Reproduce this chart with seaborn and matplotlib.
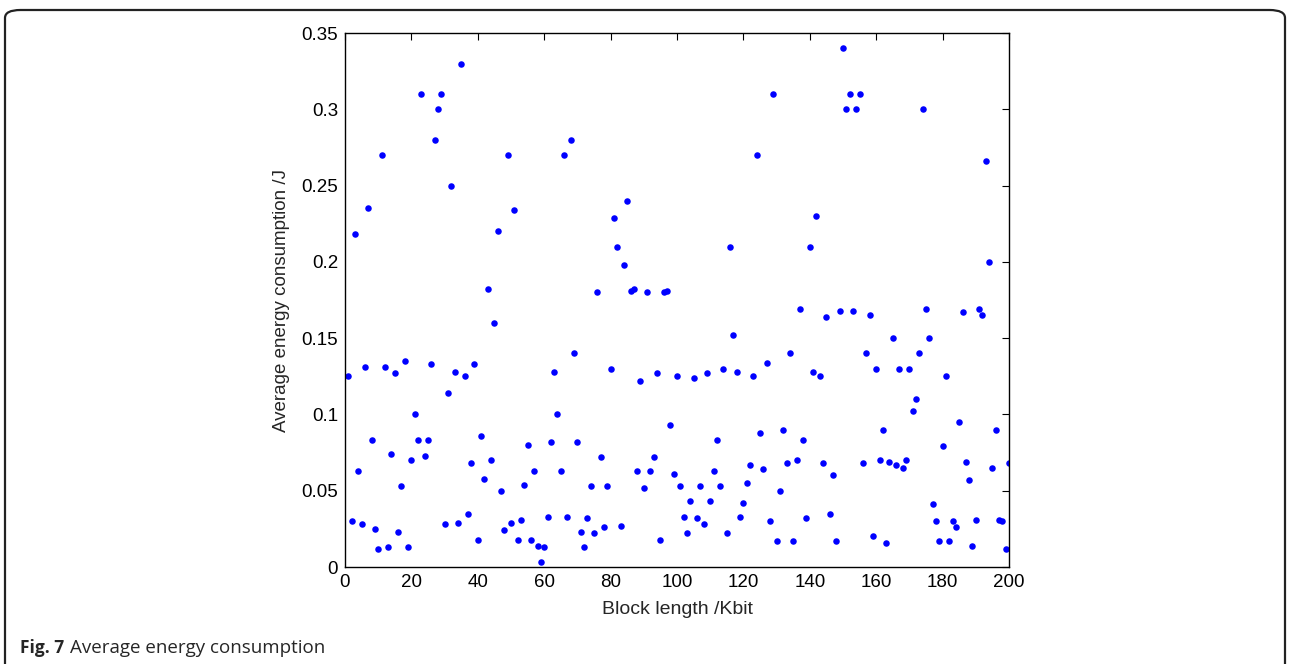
import numpy as np
import pandas as pd
import seaborn as sns
import matplotlib.pyplot as plt
from matplotlib.patches import FancyBboxPatch

# Block lengths 1..200 Kbit
block_len = np.arange(1, 201)

# Average energy consumption (J)
energy = [
    0.125, 0.030, 0.218, 0.063, 0.028, 0.131, 0.235, 0.083, 0.025, 0.012,
    0.270, 0.131, 0.013, 0.074, 0.127, 0.023, 0.053, 0.135, 0.013, 0.070,
    0.100, 0.083, 0.310, 0.073, 0.083, 0.133, 0.280, 0.300, 0.310, 0.028,
    0.114, 0.250, 0.128, 0.029, 0.330, 0.125, 0.035, 0.068, 0.133, 0.018,
    0.086, 0.058, 0.182, 0.070, 0.160, 0.220, 0.050, 0.024, 0.270, 0.029,
    0.234, 0.018, 0.031, 0.054, 0.080, 0.018, 0.063, 0.014, 0.003, 0.013,
    0.033, 0.082, 0.128, 0.100, 0.063, 0.270, 0.033, 0.280, 0.140, 0.082,
    0.023, 0.013, 0.032, 0.053, 0.022, 0.180, 0.072, 0.026, 0.053, 0.130,
    0.229, 0.210, 0.027, 0.198, 0.240, 0.181, 0.182, 0.063, 0.122, 0.052,
    0.180, 0.063, 0.072, 0.127, 0.018, 0.180, 0.181, 0.093, 0.061, 0.125,
    0.053, 0.033, 0.022, 0.043, 0.124, 0.032, 0.053, 0.028, 0.127, 0.043,
    0.063, 0.083, 0.053, 0.130, 0.022, 0.210, 0.152, 0.128, 0.033, 0.042,
    0.055, 0.067, 0.125, 0.270, 0.088, 0.064, 0.134, 0.030, 0.310, 0.017,
    0.050, 0.090, 0.068, 0.140, 0.017, 0.070, 0.169, 0.083, 0.032, 0.210,
    0.128, 0.230, 0.125, 0.068, 0.164, 0.035, 0.060, 0.017, 0.168, 0.340,
    0.300, 0.310, 0.168, 0.300, 0.310, 0.068, 0.140, 0.165, 0.020, 0.130,
    0.070, 0.090, 0.016, 0.069, 0.150, 0.067, 0.130, 0.065, 0.070, 0.130,
    0.102, 0.110, 0.140, 0.300, 0.169, 0.150, 0.041, 0.030, 0.017, 0.079,
    0.125, 0.017, 0.030, 0.026, 0.095, 0.167, 0.069, 0.057, 0.014, 0.031,
    0.169, 0.165, 0.266, 0.200, 0.065, 0.090, 0.031, 0.030, 0.012, 0.068,
]

x_ticks = [0, 20, 40, 60, 80, 100, 120, 140, 160, 180, 200]
y_ticks = [0, 0.05, 0.1, 0.15, 0.2, 0.25, 0.3, 0.35]
y_tick_labels = ['0', '0.05', '0.1', '0.15', '0.2', '0.25', '0.3', '0.35']

df = pd.DataFrame({'block': block_len, 'energy': energy})

sns.set_style('white')
plt.rcParams['font.family'] = ['Liberation Sans', 'DejaVu Sans']

fig = plt.figure(figsize=(12.9, 6.64), dpi=100)

# Rounded outer frame around the figure
frame = FancyBboxPatch((5 / 1290, -0.05), 1280 / 1290, (664 - 10) / 664 + 0.05,
                       boxstyle='round,pad=0,rounding_size=0.012',
                       transform=fig.transFigure, facecolor='none',
                       edgecolor='#222222', linewidth=1.6)
fig.patches.append(frame)

ax = fig.add_axes([345 / 1290, 97 / 664, 664 / 1290, 534 / 664])

sns.scatterplot(data=df, x='block', y='energy', ax=ax, color='#0000ff',
                s=22, linewidth=0, legend=False)

ax.set_xlim(0, 200)
ax.set_ylim(0, 0.35)
ax.set_xticks(x_ticks)
ax.set_yticks(y_ticks)
ax.set_yticklabels(y_tick_labels)
ax.tick_params(direction='in', length=5, width=0.8, labelsize=13.5,
               top=True, right=True, colors='black', pad=5)
for sp in ax.spines.values():
    sp.set_color('black')
    sp.set_linewidth(1.0)

ax.set_xlabel('Block length /Kbit', fontsize=14, labelpad=7)
ax.set_ylabel('Average energy consumption /J', fontsize=13.5, labelpad=8)

# Caption
fig.text(20 / 1290, 1 - 648 / 664, 'Fig. 7', fontsize=12.5, fontweight='bold',
         family=['Open Sans', 'DejaVu Sans'], va='center', ha='left')
fig.text(70 / 1290, 1 - 648 / 664, 'Average energy consumption', fontsize=13.5,
         family=['Open Sans', 'DejaVu Sans'], va='center', ha='left')

fig.savefig('out.png', dpi=100)
